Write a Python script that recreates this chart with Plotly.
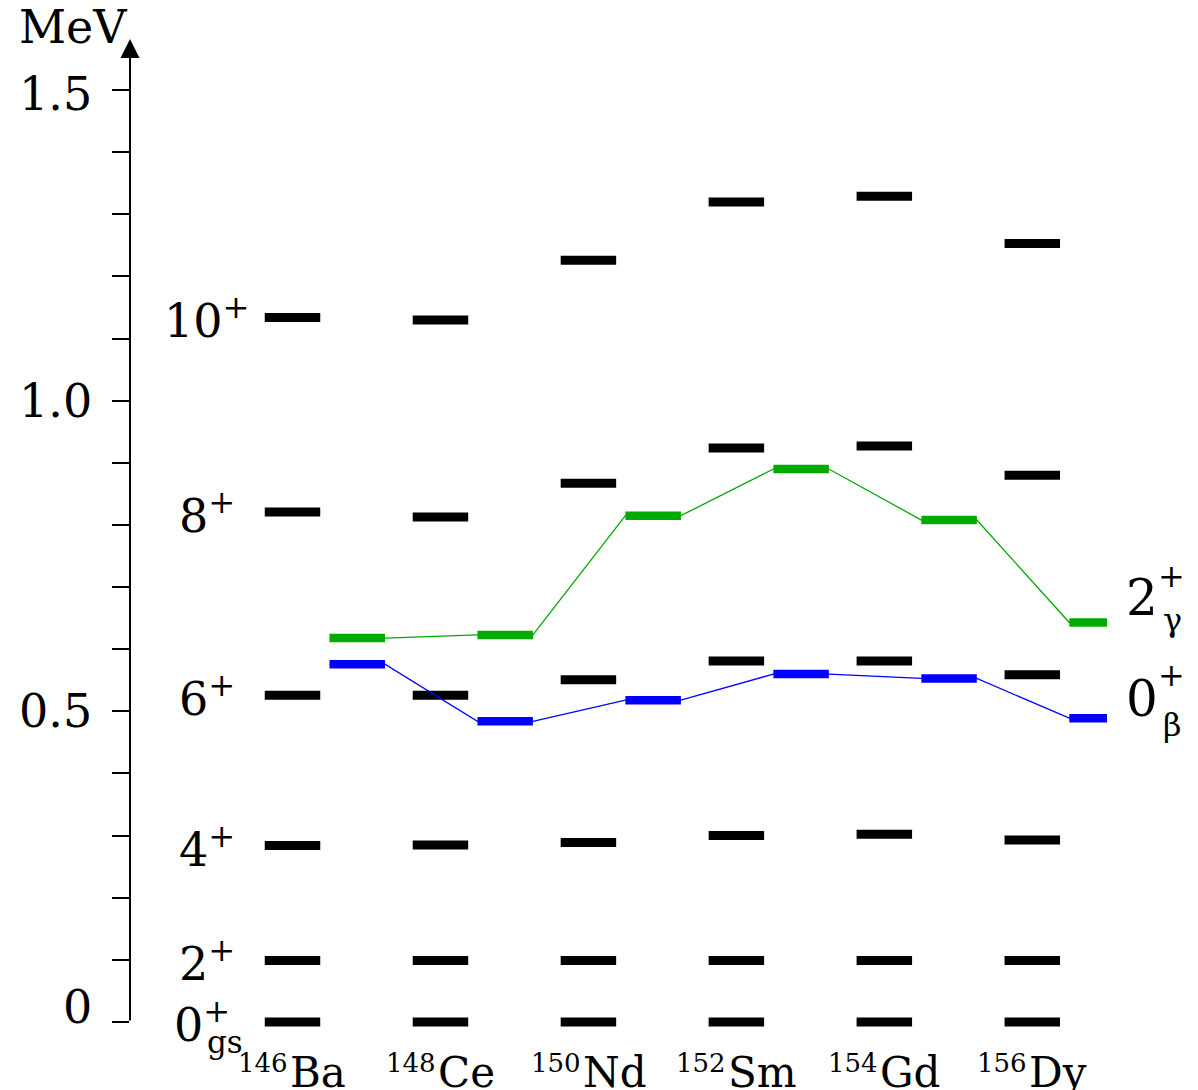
import plotly.graph_objects as go

# ---------------- data ----------------
mass_numbers = [146, 148, 150, 152, 154, 156]
elements = ["Ba", "Ce", "Nd", "Sm", "Gd", "Dy"]

spin_labels = ["0", "2", "4", "6", "8", "10"]
e_0p = [0.0, 0.0, 0.0, 0.0, 0.0, 0.0]
e_2p = [0.099, 0.099, 0.099, 0.099, 0.099, 0.099]
e_4p = [0.284, 0.285, 0.289, 0.300, 0.302, 0.293]
e_6p = [0.526, 0.526, 0.551, 0.581, 0.581, 0.559]
e_8p = [0.821, 0.813, 0.867, 0.924, 0.927, 0.880]
e_10p = [1.134, 1.130, 1.226, 1.320, 1.329, 1.253]

e_gamma = [0.618, 0.623, 0.815, 0.890, 0.808, 0.643]   # 2+ gamma band head
e_beta = [0.576, 0.484, 0.518, 0.560, 0.553, 0.489]    # 0+ beta band head

tick_values = [0.0, 0.5, 1.0, 1.5]
tick_labels = ["0", "0.5", "1.0", "1.5"]
minor_step = 0.1

# ---------------- style constants ----------------
FONT = "DejaVu Serif"
HALF = 0.375      # half width of a level bar (x units)
OFFSET = 0.875    # horizontal shift of band heads from the nucleus column
GREEN = "#00aa00"
BLUE = "#0000ff"

W, H = 1198, 1090
ML, MR = 130, 91
PX_PER_MEV = 621.3
ZERO_PX = 1022
PX_PER_X = 73.98
COL0_PX = 292.5

y_lo = (ZERO_PX - H) / PX_PER_MEV
y_hi = ZERO_PX / PX_PER_MEV
x_lo = mass_numbers[0] - (COL0_PX - ML) / PX_PER_X
x_hi = mass_numbers[0] + (W - MR - COL0_PX) / PX_PER_X

# approximate DejaVu Serif advance widths (em) for centring nuclide labels
ADV = {"B": 0.735, "a": 0.596, "C": 0.734, "e": 0.592, "N": 0.825, "d": 0.640,
       "S": 0.685, "m": 0.948, "G": 0.775, "D": 0.830, "y": 0.565}
EL_SIZE, A_SIZE = 42, 26

fig = go.Figure()

# black yrast levels
all_levels = [e_0p, e_2p, e_4p, e_6p, e_8p, e_10p]
bx, by = [], []
for lev in all_levels:
    for m, e in zip(mass_numbers, lev):
        bx += [m - HALF, m + HALF, None]
        by += [e, e, None]
fig.add_trace(go.Scatter(x=bx, y=by, mode="lines",
                         line=dict(color="black", width=9),
                         hoverinfo="skip", showlegend=False))

# band heads with connecting lines
for vals, col in [(e_gamma, GREEN), (e_beta, BLUE)]:
    tx, ty, kx, ky = [], [], [], []
    for m, e in zip(mass_numbers, vals):
        tx += [m + OFFSET - HALF, m + OFFSET + HALF]
        ty += [e, e]
        kx += [m + OFFSET - HALF, m + OFFSET + HALF, None]
        ky += [e, e, None]
    fig.add_trace(go.Scatter(x=tx, y=ty, mode="lines",
                             line=dict(color=col, width=1.3),
                             hoverinfo="skip", showlegend=False))
    fig.add_trace(go.Scatter(x=kx, y=ky, mode="lines",
                             line=dict(color=col, width=8.5),
                             hoverinfo="skip", showlegend=False))

ann = []

# axis arrow (line from 0 to top with arrowhead)
ann.append(dict(xref="paper", x=0, yref="y", y=(ZERO_PX - 39) / PX_PER_MEV,
                axref="pixel", ax=0, ayref="y", ay=0, text="",
                showarrow=True, arrowhead=2, arrowsize=1.9, arrowwidth=2,
                arrowcolor="black", standoff=0, startstandoff=0))

# MeV unit
ann.append(dict(xref="paper", x=0, yref="paper", y=1, xanchor="right", yanchor="top",
                xshift=-1, yshift=2, text="MeV", showarrow=False,
                font=dict(family=FONT, size=46, color="black")))

# tick labels
tick_shift = {"0": 15, "0.5": 0, "1.0": 0, "1.5": -4}
for v, t in zip(tick_values, tick_labels):
    ann.append(dict(xref="paper", x=0, yref="y", y=v, xanchor="right", yanchor="middle",
                    xshift=-36, yshift=tick_shift[t], text=t, showarrow=False,
                    font=dict(family=FONT, size=46, color="black")))

# spin labels (left of first column)
for s, lev in zip(spin_labels, all_levels):
    ann.append(dict(xref="x", x=mass_numbers[0], yref="y", y=lev[0],
                    xanchor="center", yanchor="middle",
                    xshift=-85.5 if s != "0" else -91, yshift=-1 if s != "0" else 0,
                    text=s + "<sup>+</sup>", showarrow=False,
                    font=dict(family=FONT, size=46, color="black")))
ann.append(dict(xref="x", x=mass_numbers[0], yref="y", y=e_0p[0],
                xanchor="left", yanchor="middle", xshift=-88, yshift=-20,
                text="gs", showarrow=False,
                font=dict(family=FONT, size=31, color="black")))

# nuclide labels: small mass number + element symbol, centred on the column
for m, el in zip(mass_numbers, elements):
    w_el = sum(ADV[c] for c in el) * EL_SIZE
    w_a = len(str(m)) * 0.636 * A_SIZE
    split = -(w_el - w_a) / 2
    ann.append(dict(xref="x", x=m, yref="y", y=0, xanchor="right", yanchor="middle",
                    xshift=split, yshift=-41, text=str(m), showarrow=False,
                    borderpad=0, font=dict(family=FONT, size=A_SIZE, color="black")))
    ann.append(dict(xref="x", x=m, yref="y", y=0, xanchor="left", yanchor="middle",
                    xshift=split, yshift=-50, text=el, showarrow=False,
                    borderpad=0, font=dict(family=FONT, size=EL_SIZE, color="black")))

# band labels on the right
for vals, main, sub, sh in [(e_gamma, "2", "γ", (24.5, 46.5, 2.5)),
                            (e_beta, "0", "β", (19.5, 43, -6.5))]:
    ann.append(dict(xref="x", x=mass_numbers[-1], yref="y", y=vals[-1],
                    xanchor="left", yanchor="middle", xshift=92, yshift=sh[0],
                    text=main, showarrow=False,
                    font=dict(family=FONT, size=50, color="black")))
    ann.append(dict(xref="x", x=mass_numbers[-1], yref="y", y=vals[-1],
                    xanchor="center", yanchor="middle", xshift=139, yshift=sh[1],
                    text="+", showarrow=False,
                    font=dict(family=FONT, size=32, color="black")))
    ann.append(dict(xref="x", x=mass_numbers[-1], yref="y", y=vals[-1],
                    xanchor="center", yanchor="middle", xshift=140, yshift=sh[2],
                    text=sub, showarrow=False,
                    font=dict(family=FONT, size=32, color="black")))

minor_ticks = [round(i * minor_step, 1) for i in range(int(round(tick_values[-1] / minor_step)) + 1)]

fig.update_layout(
    width=W, height=H,
    margin=dict(l=ML, r=MR, t=0, b=0),
    paper_bgcolor="white", plot_bgcolor="white",
    xaxis=dict(range=[x_lo, x_hi], visible=False, fixedrange=True),
    yaxis=dict(range=[y_lo, y_hi], showgrid=False, zeroline=False, showline=False,
               ticks="outside", ticklen=17, tickwidth=2, tickcolor="black",
               tickvals=minor_ticks, showticklabels=False, fixedrange=True),
    annotations=ann,
    showlegend=False,
)

fig.write_html("out.html", config={"displayModeBar": False},
               post_script="document.body.style.margin='0';")
